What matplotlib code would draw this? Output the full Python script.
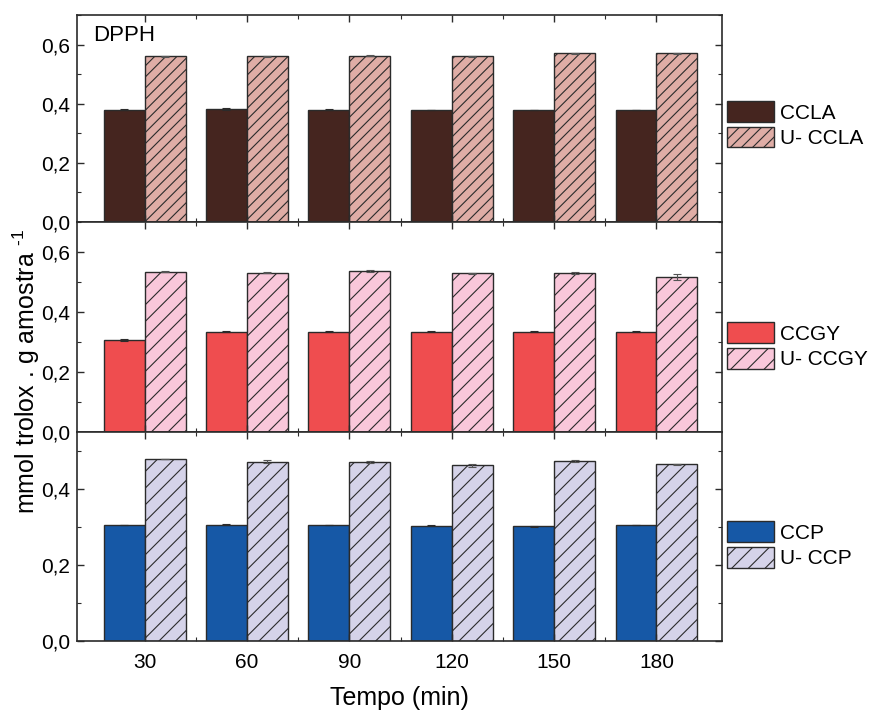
"""
DPPH - atividade antioxidante por tempo (três painéis empilhados)
"""
import numpy as np
import matplotlib
matplotlib.use('Agg')
import matplotlib.pyplot as plt
from matplotlib.ticker import FuncFormatter, MultipleLocator

plt.rcParams['font.family'] = ['Liberation Sans', 'DejaVu Sans']
plt.rcParams['mathtext.fontset'] = 'custom'
plt.rcParams['mathtext.rm'] = 'Liberation Sans'
plt.rcParams['hatch.linewidth'] = 0.8

# 数据
tempos = ['30', '60', '90', '120', '150', '180']

ccla = [0.380, 0.382, 0.380, 0.379, 0.379, 0.379]
ccla_err = [0.002, 0.002, 0.001, 0.001, 0.001, 0.001]
u_ccla = [0.560, 0.560, 0.562, 0.560, 0.571, 0.570]
u_ccla_err = [0.002, 0.002, 0.002, 0.002, 0.002, 0.002]

ccgy = [0.307, 0.334, 0.334, 0.334, 0.334, 0.334]
ccgy_err = [0.002, 0.002, 0.002, 0.002, 0.002, 0.002]
u_ccgy = [0.535, 0.531, 0.537, 0.529, 0.531, 0.516]
u_ccgy_err = [0.002, 0.002, 0.004, 0.002, 0.003, 0.010]

ccp = [0.305, 0.306, 0.305, 0.303, 0.302, 0.305]
ccp_err = [0.001, 0.001, 0.001, 0.001, 0.001, 0.001]
u_ccp = [0.479, 0.472, 0.471, 0.463, 0.474, 0.465]
u_ccp_err = [0.001, 0.004, 0.002, 0.004, 0.002, 0.001]

paineis = [
    (ccla, ccla_err, u_ccla, u_ccla_err, 'CCLA', 'U- CCLA', '#45251f', '#dfada6', 0.7, '///'),
    (ccgy, ccgy_err, u_ccgy, u_ccgy_err, 'CCGY', 'U- CCGY', '#ef4d4f', '#f9c7da', 0.7, '//'),
    (ccp, ccp_err, u_ccp, u_ccp_err, 'CCP', 'U- CCP', '#1658a6', '#d5d3e9', 0.55, '//'),
]

W, H = 873, 711
fig = plt.figure(figsize=(W / 100, H / 100), dpi=100)
left = 77 / W
width = (722 - 77) / W
limites = [(15, 222), (222, 432), (432, 641)]
cinza = '#2b2b2b'

x = np.arange(len(tempos))
bw = 0.4
virgula = FuncFormatter(lambda v, pos: f'{v:.1f}'.replace('.', ','))

for i, (a, ae, b, be, la, lb, ca, cb, ymax, hatch) in enumerate(paineis):
    y0, y1 = limites[i]
    ax = fig.add_axes([left, 1 - y1 / H, width, (y1 - y0) / H])
    ax.bar(x - bw / 2, a, bw, yerr=ae, color=ca, edgecolor=cinza, linewidth=1.0,
           error_kw=dict(ecolor=cinza, capsize=3, elinewidth=0.8, capthick=0.8), label=la)
    ax.bar(x + bw / 2, b, bw, yerr=be, color=cb, edgecolor=cinza, linewidth=1.0, hatch=hatch,
           error_kw=dict(ecolor='#555555', capsize=3, elinewidth=0.8, capthick=0.8), label=lb)

    ax.set_xlim(-0.66, len(tempos) - 1 + 0.64)
    ax.set_ylim(0, ymax)
    ax.yaxis.set_major_locator(MultipleLocator(0.2))
    ax.yaxis.set_minor_locator(MultipleLocator(0.1))
    ax.yaxis.set_major_formatter(virgula)
    ax.set_xticks(x)
    ax.set_xticks(x[:-1] + 0.5, minor=True)
    ax.tick_params(which='both', direction='in', top=True, right=True, color=cinza)
    ax.tick_params(which='major', length=5, width=1.0, labelsize=15)
    ax.tick_params(which='minor', length=3, width=0.8)
    ax.tick_params(axis='y', pad=5)
    for s in ax.spines.values():
        s.set_color(cinza)
        s.set_linewidth(1.2)

    if i < 2:
        ax.set_xticklabels([])
    else:
        ax.set_xticklabels(tempos)
        ax.tick_params(axis='x', pad=9)
        ax.set_xlabel('Tempo (min)', fontsize=18, labelpad=10)

    leg_y = [0.47, 0.41, 0.46][i]
    ax.legend(loc='center left', bbox_to_anchor=(1.0, leg_y), frameon=False, fontsize=15,
              handlelength=2.25, handleheight=1.15, handletextpad=0.3, labelspacing=0.2,
              borderpad=0.2, borderaxespad=0.05)

    if i == 0:
        ax.text(0.025, 0.95, 'DPPH', transform=ax.transAxes, ha='left', va='top', fontsize=16)

fig.text(0.030, 0.478, r'mmol trolox . g amostra $^{\text{-}1}$', rotation=90, ha='center',
         va='center', fontsize=18)

fig.savefig('out.png', dpi=100)
